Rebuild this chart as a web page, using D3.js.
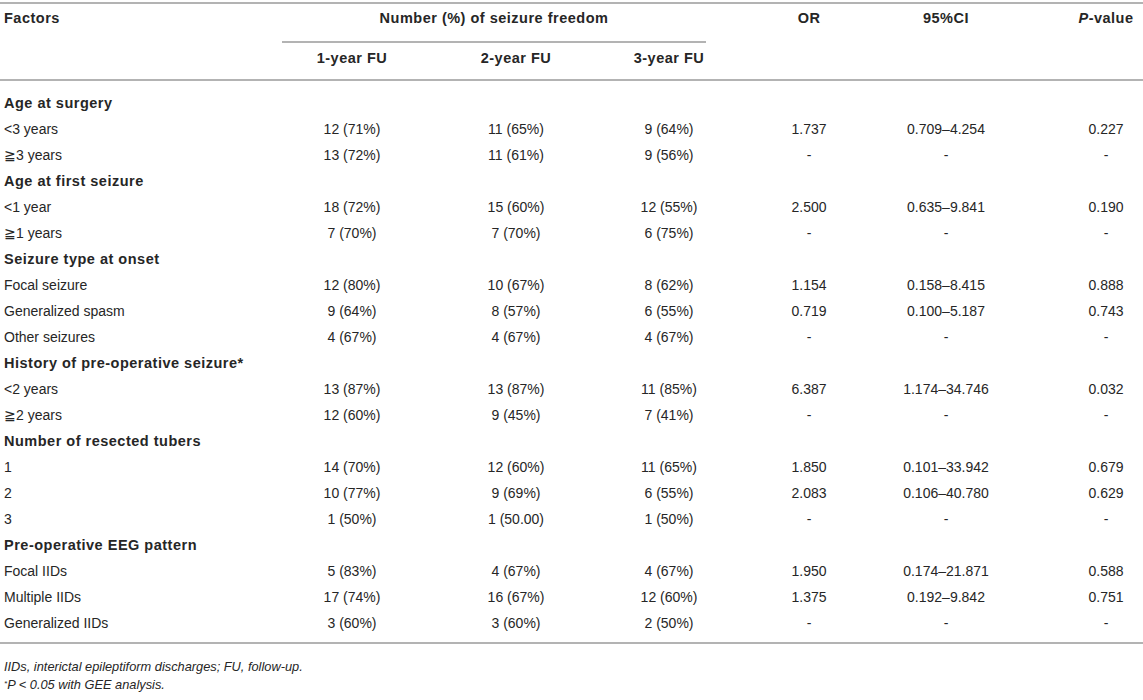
<!DOCTYPE html>
<html>
<head>
<meta charset="utf-8">
<script src="https://cdn.jsdelivr.net/npm/d3@7"></script>
<style>
  body { margin: 0; background: #fff; }
  text { font-family: "Liberation Sans", Arial, sans-serif; fill: #262626; }
  .bold { font-weight: bold; font-size: 14.5px; letter-spacing: 0.5px; }
</style>
</head>
<body>
<script>
// table content
var groups = ["Age at surgery", "Age at first seizure", "Seizure type at onset",
              "History of pre-operative seizure*", "Number of resected tubers", "Pre-operative EEG pattern"];
var levels = ["<3 years", "≧3 years", "<1 year", "≧1 years", "Focal seizure", "Generalized spasm",
              "Other seizures", "<2 years", "≧2 years", "1", "2", "3",
              "Focal IIDs", "Multiple IIDs", "Generalized IIDs"];
var levelGroup = [0, 0, 1, 1, 2, 2, 2, 3, 3, 4, 4, 4, 5, 5, 5];
var fu1 = ["12 (71%)", "13 (72%)", "18 (72%)", "7 (70%)", "12 (80%)", "9 (64%)", "4 (67%)",
           "13 (87%)", "12 (60%)", "14 (70%)", "10 (77%)", "1 (50%)", "5 (83%)", "17 (74%)", "3 (60%)"];
var fu2 = ["11 (65%)", "11 (61%)", "15 (60%)", "7 (70%)", "10 (67%)", "8 (57%)", "4 (67%)",
           "13 (87%)", "9 (45%)", "12 (60%)", "9 (69%)", "1 (50.00)", "4 (67%)", "16 (67%)", "3 (60%)"];
var fu3 = ["9 (64%)", "9 (56%)", "12 (55%)", "6 (75%)", "8 (62%)", "6 (55%)", "4 (67%)",
           "11 (85%)", "7 (41%)", "11 (65%)", "6 (55%)", "1 (50%)", "4 (67%)", "12 (60%)", "2 (50%)"];
var orVals = ["1.737", "-", "2.500", "-", "1.154", "0.719", "-", "6.387", "-", "1.850", "2.083", "-",
              "1.950", "1.375", "-"];
var ciVals = ["0.709–4.254", "-", "0.635–9.841", "-", "0.158–8.415", "0.100–5.187", "-",
              "1.174–34.746", "-", "0.101–33.942", "0.106–40.780", "-", "0.174–21.871", "0.192–9.842", "-"];
var pVals = ["0.227", "-", "0.190", "-", "0.888", "0.743", "-", "0.032", "-", "0.679", "0.629", "-",
             "0.588", "0.751", "-"];
var colKeys = ["fu1", "fu2", "fu3", "or", "ci", "p"];
var subHeads = ["1-year FU", "2-year FU", "3-year FU"];

var w = 1143, h = 700;
var lineColor = "#b3b3b3";

// flatten into rows: a heading row before each group's first level
var rows = [];
levels.forEach(function(lv, i) {
    var g = levelGroup[i];
    if (i === 0 || levelGroup[i - 1] !== g) rows.push({ head: true, label: groups[g] });
    rows.push({ head: false, label: lv, fu1: fu1[i], fu2: fu2[i], fu3: fu3[i],
                or: orVals[i], ci: ciVals[i], p: pVals[i] });
});

var svg = d3.select("body").append("svg")
    .attr("width", w)
    .attr("height", h);

var y = d3.scaleBand()
    .domain(d3.range(rows.length))
    .range([90, 90 + rows.length * 26]);

var x = d3.scaleOrdinal()
    .domain(colKeys)
    .range([352, 516, 669, 809, 946, 1106]);

// rules
var rules = [
    { x1: 0, x2: w, y: 3 },
    { x1: 282, x2: 706, y: 42 },
    { x1: 0, x2: w, y: 80 },
    { x1: 0, x2: w, y: y.range()[1] + 7 }
];
svg.selectAll("line.rule")
    .data(rules)
    .enter()
    .append("line")
    .attr("class", "rule")
    .attr("x1", function(d) { return d.x1; })
    .attr("x2", function(d) { return d.x2; })
    .attr("y1", function(d) { return d.y; })
    .attr("y2", function(d) { return d.y; })
    .attr("stroke", lineColor)
    .attr("stroke-width", 2);

// header
var head = svg.append("g");

head.append("text").attr("class", "bold").attr("x", 4).attr("y", 18).attr("dy", "0.35em").text("Factors");
head.append("text").attr("class", "bold").attr("x", 494).attr("y", 18).attr("dy", "0.35em")
    .attr("text-anchor", "middle").text("Number (%) of seizure freedom");
head.append("text").attr("class", "bold").attr("x", x("or")).attr("y", 18).attr("dy", "0.35em")
    .attr("text-anchor", "middle").text("OR");
head.append("text").attr("class", "bold").attr("x", x("ci")).attr("y", 18).attr("dy", "0.35em")
    .attr("text-anchor", "middle").text("95%CI");
var pHead = head.append("text").attr("class", "bold").attr("x", x("p")).attr("y", 18).attr("dy", "0.35em")
    .attr("text-anchor", "middle");
pHead.append("tspan").attr("font-style", "italic").text("P");
pHead.append("tspan").text("-value");

head.selectAll("text.sub")
    .data(subHeads)
    .enter()
    .append("text")
    .attr("class", "sub bold")
    .attr("x", function(d, i) { return x(colKeys[i]); })
    .attr("y", 58)
    .attr("dy", "0.35em")
    .attr("text-anchor", "middle")
    .text(function(d) { return d; });

// body rows
var row = svg.selectAll("g.row")
    .data(rows)
    .enter()
    .append("g")
    .attr("class", "row")
    .attr("transform", function(d, i) { return "translate(0," + (y(i) + y.bandwidth() / 2) + ")"; });

row.append("text")
    .attr("class", function(d) { return d.head ? "bold" : null; })
    .attr("x", 4)
    .attr("dy", "0.35em")
    .attr("font-size", "14px")
    .text(function(d) { return d.label; });

row.filter(function(d) { return !d.head; })
    .selectAll("text.cell")
    .data(function(d) { return colKeys.map(function(k) { return { k: k, v: d[k] }; }); })
    .enter()
    .append("text")
    .attr("class", "cell")
    .attr("x", function(d) { return x(d.k); })
    .attr("dy", "0.35em")
    .attr("font-size", "14px")
    .attr("text-anchor", "middle")
    .text(function(d) { return d.v; });

// footnotes
var foot = svg.append("g")
    .attr("font-size", "12.8px")
    .attr("font-style", "italic");
foot.append("text").attr("x", 4).attr("y", 667).attr("dy", "0.35em")
    .text("IIDs, interictal epileptiform discharges; FU, follow-up.");
var f2 = foot.append("text").attr("x", 4).attr("y", 688).attr("dy", "0.35em");
f2.append("tspan").attr("font-size", "8px").attr("dy", "-0.2em").text("*");
f2.append("tspan").attr("dy", "0.2em").text("P < 0.05 with GEE analysis.");
</script>
</body>
</html>
